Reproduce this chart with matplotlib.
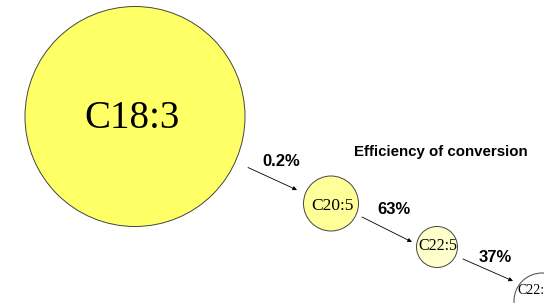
import matplotlib
matplotlib.use("Agg")
import matplotlib.pyplot as plt
from matplotlib.patches import Circle, FancyArrowPatch

# Data
nodes = ["C18:3", "C20:5", "C22:5", "C22:6"]
efficiencies = ["0.2%", "63%", "37%"]
title = "Efficiency of conversion"

# Layout (pixel coordinates)
centers = [(135, 116.5), (331, 203.5), (437, 247), (542, 301)]
radii = [110, 27.5, 20.5, 28]
fills = ["#FFFF66", "#FFFF99", "#FFFFCC", "#FFFFFF"]
label_sizes = [28, 12.5, 11.5, 10]
label_offsets = [(-3, 1.5), (1, 3), (1, -1), (-8, -10)]
arrows = [((248, 167.5), (297, 190)), ((362, 217), (412, 242)), ((463, 259), (513, 281))]
eff_pos = [(281.5, 161), (394.5, 210), (495.5, 257)]

fig = plt.figure(figsize=(5.44, 3.03), dpi=100)
ax = fig.add_axes([0, 0, 1, 1])
ax.set_xlim(0, 544)
ax.set_ylim(303, 0)
ax.set_aspect("auto")
ax.axis("off")

for name, c, r, f, fs, off in zip(nodes, centers, radii, fills, label_sizes, label_offsets):
    ax.add_patch(Circle(c, r, facecolor=f, edgecolor="#444444", linewidth=0.7))
    ax.text(c[0] + off[0], c[1] + off[1], name, fontsize=fs, family="Liberation Serif",
            ha="center", va="center", color="black")

for (p0, p1) in arrows:
    ax.add_patch(FancyArrowPatch(p0, p1, arrowstyle="-|>", mutation_scale=6,
                                 color="black", linewidth=0.6, shrinkA=0, shrinkB=0))

for lab, p in zip(efficiencies, eff_pos):
    ax.text(p[0], p[1], lab, fontsize=12, fontweight="bold", family="Liberation Sans",
            ha="center", va="center", color="black")

ax.text(441, 152, title, fontsize=10.8, fontweight="bold", family="Liberation Sans",
        ha="center", va="center", color="black")

fig.savefig("out.png", dpi=100)
